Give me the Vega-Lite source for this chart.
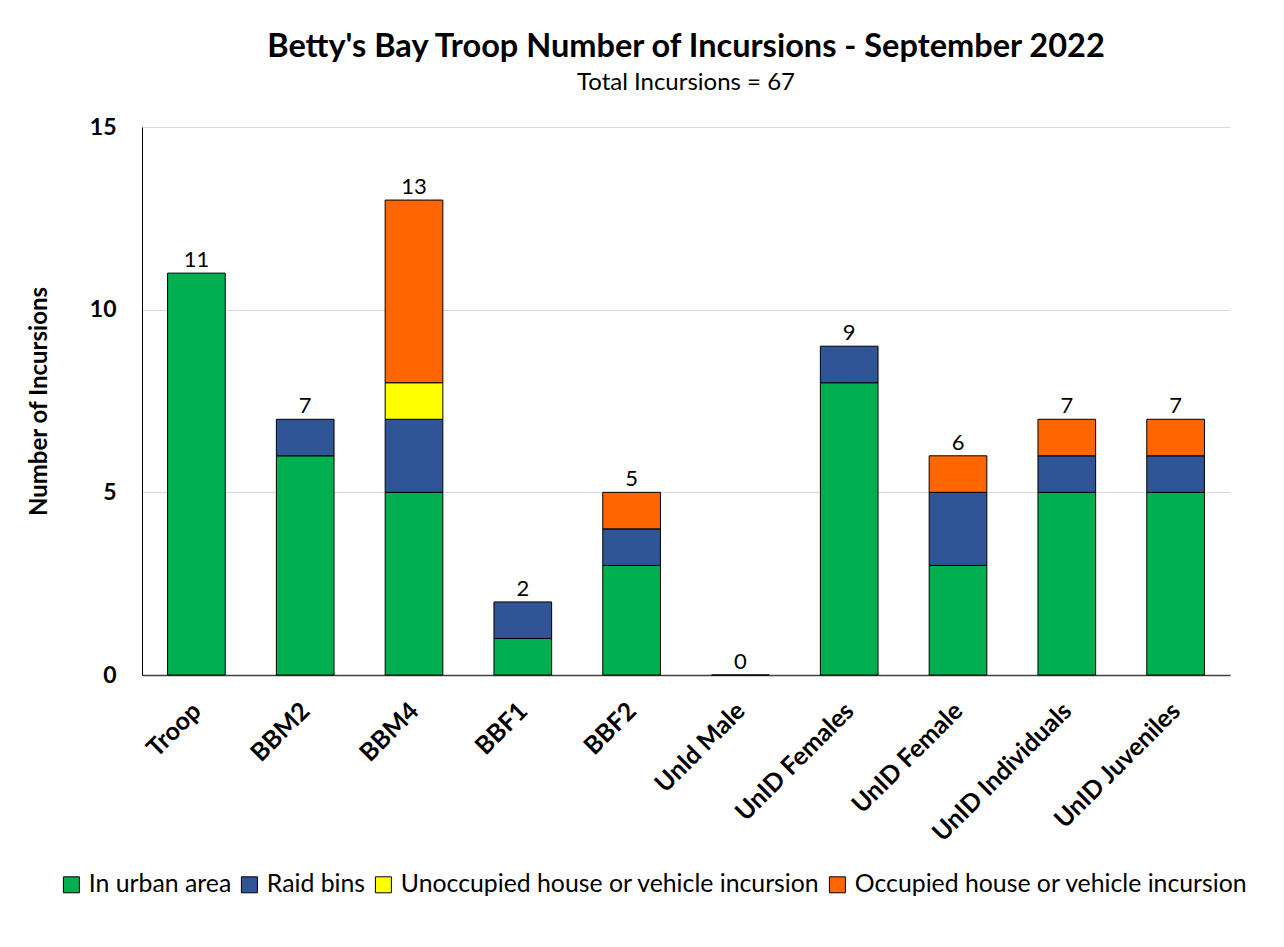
{
  "$schema": "https://vega.github.io/schema/vega-lite/v6.json",
  "width": 1088,
  "height": 548,
  "padding": {"left": 27, "top": 30, "right": 10, "bottom": 10},
  "background": "white",
  "title": {
    "text": "Betty's Bay Troop Number of Incursions - September 2022",
    "subtitle": "Total Incursions = 67",
    "font": "Lato",
    "fontSize": 32.5,
    "fontWeight": "bold",
    "color": "black",
    "subtitleFont": "Lato",
    "subtitleFontSize": 24,
    "subtitleColor": "black",
    "subtitlePadding": 8,
    "anchor": "middle",
    "offset": 21
  },
  "data": {
    "values": [
      {"name": "Troop", "type": "In urban area", "ord": 1, "count": 11},
      {"name": "BBM2", "type": "In urban area", "ord": 1, "count": 6},
      {"name": "BBM2", "type": "Raid bins", "ord": 2, "count": 1},
      {"name": "BBM4", "type": "In urban area", "ord": 1, "count": 5},
      {"name": "BBM4", "type": "Raid bins", "ord": 2, "count": 2},
      {"name": "BBM4", "type": "Unoccupied house or vehicle incursion", "ord": 3, "count": 1},
      {"name": "BBM4", "type": "Occupied house or vehicle incursion", "ord": 4, "count": 5},
      {"name": "BBF1", "type": "In urban area", "ord": 1, "count": 1},
      {"name": "BBF1", "type": "Raid bins", "ord": 2, "count": 1},
      {"name": "BBF2", "type": "In urban area", "ord": 1, "count": 3},
      {"name": "BBF2", "type": "Raid bins", "ord": 2, "count": 1},
      {"name": "BBF2", "type": "Occupied house or vehicle incursion", "ord": 4, "count": 1},
      {"name": "UnId Male", "type": "In urban area", "ord": 1, "count": 0},
      {"name": "UnID Females", "type": "In urban area", "ord": 1, "count": 8},
      {"name": "UnID Females", "type": "Raid bins", "ord": 2, "count": 1},
      {"name": "UnID Female", "type": "In urban area", "ord": 1, "count": 3},
      {"name": "UnID Female", "type": "Raid bins", "ord": 2, "count": 2},
      {"name": "UnID Female", "type": "Occupied house or vehicle incursion", "ord": 4, "count": 1},
      {"name": "UnID Individuals", "type": "In urban area", "ord": 1, "count": 5},
      {"name": "UnID Individuals", "type": "Raid bins", "ord": 2, "count": 1},
      {"name": "UnID Individuals", "type": "Occupied house or vehicle incursion", "ord": 4, "count": 1},
      {"name": "UnID Juveniles", "type": "In urban area", "ord": 1, "count": 5},
      {"name": "UnID Juveniles", "type": "Raid bins", "ord": 2, "count": 1},
      {"name": "UnID Juveniles", "type": "Occupied house or vehicle incursion", "ord": 4, "count": 1}
    ]
  },
  "encoding": {
    "x": {
      "field": "name",
      "type": "nominal",
      "sort": null,
      "scale": {"paddingInner": 0.47, "paddingOuter": 0.235},
      "axis": {
        "title": null,
        "labelAngle": -45,
        "labelFont": "Lato",
        "labelFontSize": 25,
        "labelFontWeight": "bold",
        "labelColor": "black",
        "labelPadding": 23,
        "labelOffset": -8,
        "labelLimit": 0,
        "ticks": false,
        "domainColor": "#404040",
        "domainWidth": 1.5
      }
    }
  },
  "layer": [
    {
      "mark": {"type": "bar", "stroke": "black", "strokeWidth": 1},
      "encoding": {
        "y": {
          "field": "count",
          "type": "quantitative",
          "aggregate": "sum",
          "stack": "zero",
          "scale": {"domain": [0, 15], "nice": false},
          "axis": {
            "title": "Number of Incursions",
            "titleFont": "Lato",
            "titleFontSize": 24,
            "titleFontWeight": "bold",
            "titleColor": "black",
            "titlePadding": 38,
            "values": [0, 5, 10, 15],
            "labelFont": "Lato",
            "labelFontSize": 23,
            "labelFontWeight": "bold",
            "labelColor": "black",
            "labelPadding": 26,
            "ticks": false,
            "domainColor": "black",
            "gridColor": "#D9D9D9",
            "gridWidth": 1
          }
        },
        "order": {"field": "ord", "type": "quantitative", "aggregate": "min"},
        "color": {
          "field": "type",
          "type": "nominal",
          "sort": ["In urban area", "Raid bins", "Unoccupied house or vehicle incursion", "Occupied house or vehicle incursion"],
          "scale": {
            "domain": ["In urban area", "Raid bins", "Unoccupied house or vehicle incursion", "Occupied house or vehicle incursion"],
            "range": ["#00B050", "#2F5597", "#FFFF00", "#FF6600"]
          },
          "legend": {
            "title": null,
            "orient": "none",
            "legendX": -83,
            "legendY": 745,
            "direction": "horizontal",
            "symbolType": "square",
            "symbolSize": 256,
            "symbolStrokeColor": "black",
            "symbolStrokeWidth": 1,
            "labelFont": "Lato",
            "labelFontSize": 24.8,
            "labelColor": "black",
            "labelLimit": 0,
            "columnPadding": 5,
            "symbolOffset": 0,
            "labelOffset": 5
          }
        }
      }
    },
    {
      "mark": {"type": "text", "dy": -13, "font": "Lato", "fontSize": 22, "color": "black"},
      "encoding": {
        "y": {"field": "count", "type": "quantitative", "aggregate": "sum"},
        "text": {"field": "count", "type": "quantitative", "aggregate": "sum"}
      }
    }
  ],
  "config": {
    "view": {"stroke": null},
    "axisX": {"grid": false}
  }
}
